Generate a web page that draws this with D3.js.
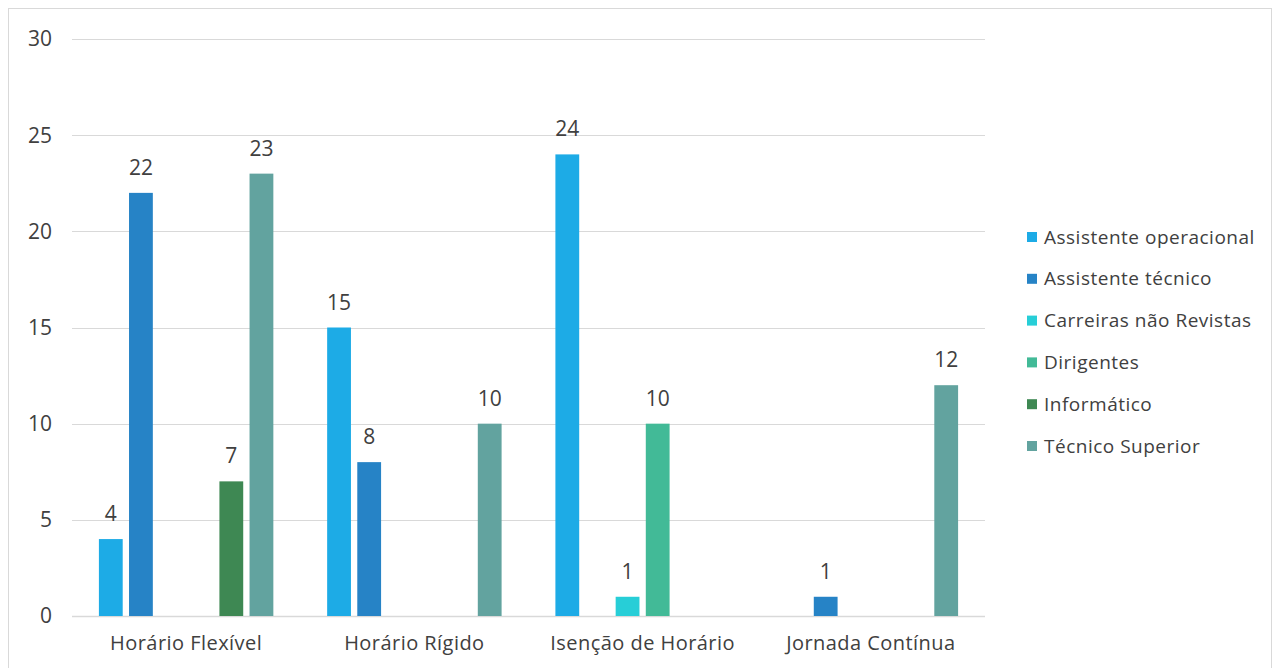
<!DOCTYPE html>
<html>
<head>
<meta charset="utf-8">
<script src="https://cdn.jsdelivr.net/npm/d3@7"></script>
<style>
  body { margin: 0; background: #fff; }
  svg text { font-family: "Open Sans", sans-serif; fill: #404040; }
</style>
</head>
<body>
<div id="chart"></div>
<script>
// data
var categories = ["Horário Flexível", "Horário Rígido", "Isenção de Horário", "Jornada Contínua"];
var seriesNames = ["Assistente operacional", "Assistente técnico", "Carreiras não Revistas",
                   "Dirigentes", "Informático", "Técnico Superior"];
var seriesColors = ["#1DABE6", "#2683C6", "#27CED7", "#42BA97", "#3E8853", "#62A39F"];
// one array per series, in category order (null = no bar)
var assistenteOperacional = [4, 15, 24, null];
var assistenteTecnico     = [22, 8, null, 1];
var carreirasNaoRevistas  = [null, null, 1, null];
var dirigentes            = [null, null, 10, null];
var informatico           = [7, null, null, null];
var tecnicoSuperior       = [23, 10, null, 12];
var seriesValues = [assistenteOperacional, assistenteTecnico, carreirasNaoRevistas,
                    dirigentes, informatico, tecnicoSuperior];
var yTicks = [0, 5, 10, 15, 20, 25, 30];

var W = 1274, H = 668;
var plot = {left: 72, right: 985, top: 39, bottom: 616};

var svg = d3.select("#chart").append("svg")
    .attr("width", W)
    .attr("height", H);

// outer border
svg.append("rect")
    .attr("x", 8.5).attr("y", 8.5)
    .attr("width", 1263).attr("height", 680)
    .attr("fill", "none")
    .attr("stroke", "#d9d9d9")
    .attr("stroke-width", 1);

// scales
var x0 = d3.scaleBand().domain(categories).range([plot.left, plot.right]);
var bw = x0.bandwidth();
var x1 = d3.scaleBand().domain(d3.range(seriesNames.length))
    .range([bw * 0.104, bw * 0.896])
    .paddingInner(0.21).paddingOuter(0.105);
var y = d3.scaleLinear().domain([0, 30]).range([plot.bottom, plot.top]);

// gridlines
svg.append("g").selectAll("line")
    .data(yTicks)
  .enter().append("line")
    .attr("x1", plot.left).attr("x2", plot.right)
    .attr("y1", function(d) { return Math.round(y(d)) + 0.5; })
    .attr("y2", function(d) { return Math.round(y(d)) + 0.5; })
    .attr("stroke", "#d9d9d9")
    .attr("stroke-width", function(d) { return d === 0 ? 1.5 : 1; });

// y labels
svg.append("g").selectAll("text")
    .data(yTicks)
  .enter().append("text")
    .attr("x", 52)
    .attr("y", function(d) { return y(d); })
    .attr("dy", "0.35em")
    .attr("text-anchor", "end")
    .style("font-size", "21px")
    .text(function(d) { return d; });

// bars
var flat = [];
seriesValues.forEach(function(vals, si) {
  vals.forEach(function(v, ci) {
    if (v != null) flat.push({s: si, c: categories[ci], v: v});
  });
});

svg.append("g").selectAll("rect")
    .data(flat)
  .enter().append("rect")
    .attr("x", function(d) { return x0(d.c) + x1(d.s); })
    .attr("y", function(d) { return y(d.v); })
    .attr("width", x1.bandwidth())
    .attr("height", function(d) { return y(0) - y(d.v); })
    .attr("fill", function(d) { return seriesColors[d.s]; });

// value labels
svg.append("g").selectAll("text")
    .data(flat)
  .enter().append("text")
    .attr("x", function(d) { return x0(d.c) + x1(d.s) + x1.bandwidth() / 2; })
    .attr("y", function(d) { return y(d.v) - 18; })
    .attr("text-anchor", "middle")
    .style("font-size", "21px")
    .text(function(d) { return d.v; });

// category labels
svg.append("g").selectAll("text")
    .data(categories)
  .enter().append("text")
    .attr("x", function(d) { return x0(d) + bw / 2; })
    .attr("y", 650)
    .attr("text-anchor", "middle")
    .style("font-size", "20px")
    .style("letter-spacing", "0.45px")
    .text(function(d) { return d; });

// legend
var legend = svg.append("g").selectAll("g")
    .data(seriesNames)
  .enter().append("g")
    .attr("transform", function(d, i) { return "translate(1027," + (237 + i * 41.8) + ")"; });

legend.append("rect")
    .attr("x", 0).attr("y", -5)
    .attr("width", 10).attr("height", 10)
    .attr("fill", function(d, i) { return seriesColors[i]; });

legend.append("text")
    .attr("x", 17)
    .attr("y", 0)
    .attr("dy", "0.35em")
    .style("font-size", "19px")
    .style("letter-spacing", "0.5px")
    .text(function(d) { return d; });
</script>
</body>
</html>
